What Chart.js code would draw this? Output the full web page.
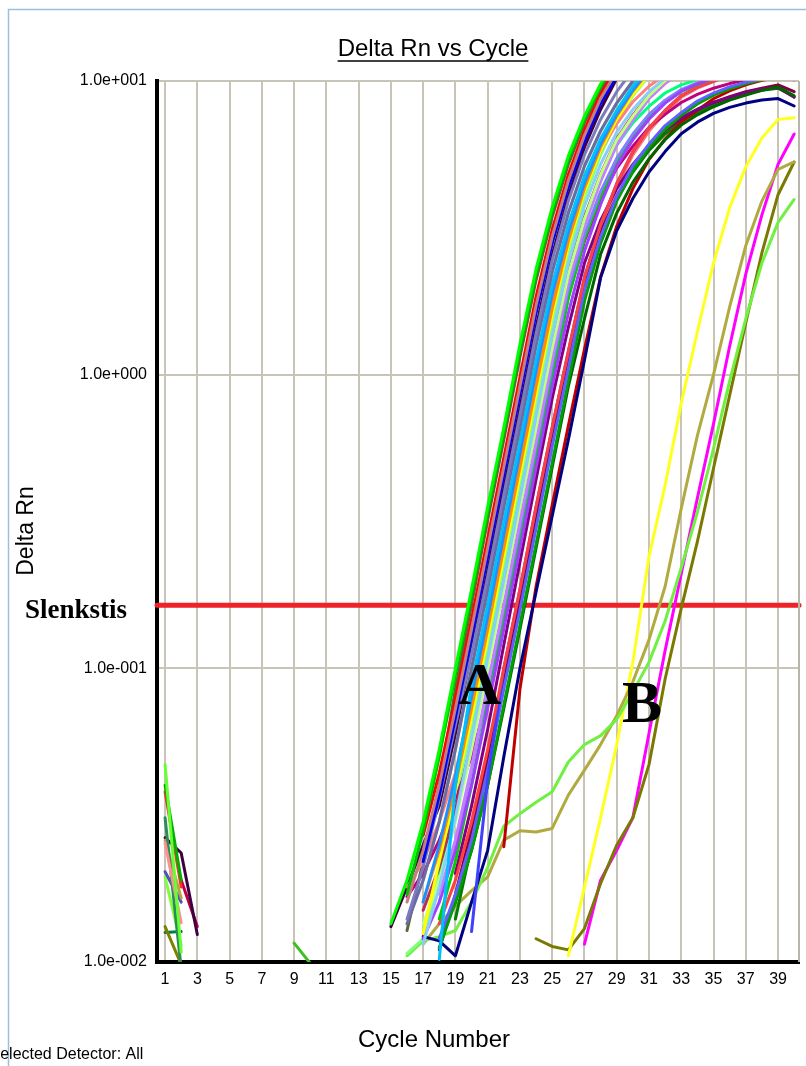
<!DOCTYPE html>
<html>
<head>
<meta charset="utf-8">
<script src="https://cdn.jsdelivr.net/npm/chart.js@4.4.1/dist/chart.umd.min.js"></script>
<style>
  html, body { margin: 0; padding: 0; background: #ffffff; }
  #wrap { position: relative; width: 806px; height: 1066px; }
  canvas { display: block; }
</style>
</head>
<body>
<div id="wrap"><canvas id="c" width="806" height="1066"></canvas></div>
<script>
// ---------- DATA ----------
const xTickCycles = [1,3,5,7,9,11,13,15,17,19,21,23,25,27,29,31,33,35,37,39];
const yTickValues = [0.01, 0.1, 1, 10];
const yTickLabels = ['1.0e-002', '1.0e-001', '1.0e+000', '1.0e+001'];
const thresholdValue = 0.164;
const thresholdLabel = 'Slenkstis';

// Group A curves: first cycle of each curve, then Delta Rn values per cycle
const groupAStart = [15,16,16,17,17,16,16,18,17,17,17,17,17,17,18,16,17,18,18,18,18,20,18,16,18,16,15,18,19,18,17,22,19,19,17,16];
const a01 = [0.0135,0.019,0.030,0.053,0.1,0.186,0.355,0.661,1.27,2.29,3.72,5.56,7.59,9.77,12.0];
const a02 = [0.017,0.028,0.05,0.095,0.178,0.34,0.64,1.22,2.2,3.6,5.4,7.4,9.6,11.8];
const a03 = [0.016,0.024,0.04,0.073,0.136,0.257,0.484,0.912,1.72,2.95,4.57,6.53,8.71,10.8];
const a04 = [0.027,0.044,0.079,0.147,0.277,0.52,0.98,1.84,3.12,4.8,6.8,9.0,11.1];
const a05 = [0.022,0.037,0.068,0.127,0.24,0.455,0.86,1.62,2.8,4.35,6.25,8.4,10.4];
const a06 = [0.014,0.021,0.036,0.064,0.112,0.205,0.39,0.73,1.38,2.45,3.9,5.6,7.4,9.2,10.9];
const a07 = [0.0135,0.019,0.030,0.053,0.1,0.186,0.355,0.661,1.26,2.24,3.55,5.13,6.76,8.41,10.0,11.5];
const a08 = [0.0102,0.04,0.088,0.165,0.315,0.59,1.12,2.02,3.25,4.75,6.35,7.95,9.6,11.2];
const a09 = [0.016,0.025,0.043,0.08,0.15,0.285,0.54,1.03,1.88,3.05,4.5,6.1,7.7,9.3,10.9];
const a10 = [0.016,0.024,0.04,0.073,0.136,0.257,0.484,0.912,1.68,2.85,4.32,5.96,7.59,9.23,10.8];
const a11 = [0.0125,0.022,0.038,0.068,0.127,0.24,0.455,0.86,1.6,2.75,4.2,5.8,7.4,9.0,10.5];
const a12 = [0.0115,0.018,0.031,0.058,0.108,0.2,0.38,0.72,1.36,2.4,3.75,5.2,6.7,8.0,9.2,10.2,11.0];
const a13 = [0.0135,0.019,0.030,0.053,0.1,0.186,0.355,0.661,1.23,2.19,3.39,4.79,6.31,7.59,8.91,10.0,11.0];
const a14 = [0.015,0.021,0.033,0.056,0.104,0.19,0.36,0.67,1.25,2.22,3.42,4.82,6.35,7.65,8.95,10.0,11.0];
const a15 = [0.017,0.026,0.046,0.088,0.165,0.315,0.59,1.12,2.05,3.2,4.55,6.05,7.35,8.7,9.8,10.7];
const a16 = [0.018,0.022,0.03,0.044,0.078,0.146,0.275,0.52,0.98,1.8,3.0,4.35,5.8,7.15,8.5,9.6,10.5];
const a17 = [0.012,0.016,0.024,0.04,0.073,0.136,0.257,0.484,0.912,1.62,2.63,3.8,5.13,6.31,7.41,8.41,9.23,9.77,10.2];
const a18 = [0.02,0.032,0.057,0.107,0.2,0.38,0.71,1.3,2.3,3.45,4.75,6.05,7.2,8.2,9.1,9.7,10.1];
const a19 = [0.016,0.025,0.045,0.085,0.16,0.3,0.57,1.07,1.95,3.0,4.2,5.45,6.6,7.7,8.6,9.35,9.85,10.3];
const a20 = [0.014,0.022,0.04,0.076,0.145,0.275,0.52,0.98,1.82,2.9,4.05,5.3,6.45,7.55,8.45,9.2,9.75,10.2];
const a21 = [0.0135,0.019,0.030,0.053,0.1,0.186,0.355,0.661,1.2,2.14,3.24,4.47,5.75,6.92,7.94,8.91,9.55,10.0,10.5];
const a22 = [0.0127,0.042,0.1,0.186,0.355,0.661,1.2,2.14,3.24,4.47,5.75,6.92,7.94,8.91,9.55,10.0,10.5];
const a23 = [0.012,0.017,0.026,0.045,0.085,0.158,0.3,0.57,1.05,1.95,2.95,4.05,5.15,6.1,7.05,7.8,8.55,9.1,9.55,9.9,10.15];
const a24 = [0.0167,0.02,0.026,0.036,0.05,0.08,0.15,0.28,0.53,0.98,1.85,2.85,3.95,5.05,6.0,6.95,7.7,8.45,9.0,9.45,9.8,10.1];
const a25 = [0.0112,0.016,0.024,0.04,0.075,0.14,0.265,0.5,0.95,1.78,2.8,3.9,4.95,5.95,6.85,7.65,8.35,8.95,9.4,9.8,10.1];
const a26 = [0.0128,0.022,0.04,0.085,0.165,0.32,0.6,1.15,2.1,3.45,5.2,7.2,9.3,11.5];
const a27 = [0.0132,0.018,0.025,0.034,0.06,0.115,0.215,0.41,0.77,1.45,2.55,4.05,5.95,8.0,10.2];
const a28 = [0.012,0.016,0.024,0.04,0.073,0.136,0.257,0.484,0.912,1.55,2.57,3.55,4.52,5.43,6.31,7.08,7.67,8.17,8.61,8.95,9.29,9.55,8.9];
const a29 = [0.02,0.034,0.062,0.12,0.23,0.44,0.83,1.45,2.4,3.35,4.3,5.2,6.05,6.85,7.5,8.0,8.45,8.8,9.15,9.4,9.5,8.8];
const a30 = [0.011,0.017,0.028,0.05,0.092,0.17,0.33,0.62,1.15,2.05,3.05,4.05,5.0,5.95,6.8,7.45,8.0,8.45,8.85,9.2,9.45,9.7,9.2];
const a31 = [0.0122,0.0118,0.0105,0.016,0.024,0.05,0.1,0.182,0.33,0.6,1.12,2.14,3.09,3.98,4.9,5.75,6.61,7.24,7.76,8.13,8.41,8.61,8.71,8.22];
const a32 = [0.0247,0.085,0.19,0.36,0.67,1.22,2.15,3.2,4.3,5.4,6.35,7.25,7.95,8.7,9.25,9.7,10.05,10.3,10.1];
const a33 = [0.014,0.025,0.046,0.088,0.165,0.31,0.6,1.1,1.95,2.95,3.95,4.9,5.8,6.6,7.3,7.85,8.3,8.7,9.05,9.3,9.45,8.85];
const a34 = [0.016,0.03,0.052,0.094,0.175,0.335,0.63,1.16,2.08,3.15,4.35,5.6,6.75,7.8,8.8,9.45,9.95,10.4];
const a35 = [0.019,0.030,0.053,0.1,0.186,0.355,0.661,1.26,2.24,3.55,5.13,6.76,8.41,10.0,11.5];
const a36 = [0.0107,0.012,0.02,0.036,0.064,0.117,0.22,0.42,0.8,1.5,2.6,4.0,5.6,7.3,8.9,10.4];

// Group B curves (late amplification)
const groupBStart = [16, 17, 26, 24, 27];
const b1 = [0.0105,0.0118,0.0122,0.0128,0.016,0.021,0.029,0.032,0.035,0.038,0.048,0.055,0.059,0.067,0.083,0.105,0.145,0.22,0.34,0.56,0.95,1.55,2.4,3.3,3.95];
const b2 = [0.0115,0.0135,0.0155,0.0175,0.0195,0.026,0.028,0.0277,0.0285,0.037,0.045,0.055,0.069,0.09,0.125,0.19,0.35,0.62,1.0,1.7,2.75,3.9,5.0,5.3];
const b3 = [0.0105,0.018,0.031,0.055,0.105,0.24,0.42,0.8,1.4,2.4,3.7,5.1,6.4,7.4,7.5];
const b4 = [0.012,0.0113,0.011,0.013,0.0185,0.025,0.031,0.047,0.092,0.16,0.27,0.48,0.85,1.5,2.6,4.1,5.3];
const b5 = [0.0115,0.019,0.024,0.031,0.06,0.115,0.21,0.38,0.68,1.25,2.2,3.5,5.2,6.6];

// Early-cycle noise fragments
const noiseStart = [1,1,1,1,1,1,1,2,1,1,1,1,9];
const n01 = [0.047,0.0108];
const n02 = [0.040,0.019];
const n03 = [0.038,0.018];
const n04 = [0.0254,0.0136];
const n05 = [0.031,0.0095];
const n06 = [0.026,0.0165];
const n07 = [0.0265,0.0235,0.0124];
const n08 = [0.019,0.0132];
const n09 = [0.0203,0.016];
const n10 = [0.0195,0.0114];
const n11 = [0.0132,0.0098];
const n12 = [0.0126,0.0127];
const n13 = [0.0116,0.0099];

// ---------- STYLE ----------
const groupAColors = ['#00ff00','#00c000','#c08080','#ff0000','#0000ff','#7b7bbd','#6a6aa8','#00bfff','#1e90ff','#ff8c00','#ffff00','#87cefa','#c0ff80','#b03060','#c080ff','#ff7f7f','#a040ff','#00ff80','#8080ff','#00d000','#ff4040','#4040ff','#6060ff','#c0007f','#00a000','#556b2f','#400040','#006400','#800080','#800040','#000080','#c00000','#008000','#ff6f6f','#9acd32','#80ff80'];
const groupBColors = ['#70f040','#b0aa40','#ffff20','#7a7a00','#ff00ff'];
const noiseColors = ['#66ff33','#00b000','#ff3030','#ff9090','#2e8b57','#b5a642','#400040','#c00040','#5050c0','#80ff40','#808000','#008040','#40c020'];

const SANS = "'Liberation Sans', Arial, Helvetica, sans-serif";
const SERIF = "'Liberation Serif', 'Times New Roman', serif";

const groupA = [a01,a02,a03,a04,a05,a06,a07,a08,a09,a10,a11,a12,a13,a14,a15,a16,a17,a18,a19,a20,a21,a22,a23,a24,a25,a26,a27,a28,a29,a30,a31,a32,a33,a34,a35,a36];
const groupB = [b1,b2,b3,b4,b5];
const noise = [n01,n02,n03,n04,n05,n06,n07,n08,n09,n10,n11,n12,n13];

function toPoints(start, vals) { return vals.map((v, i) => ({ x: start + i, y: v })); }
function lineDs(points, color, width) {
  return { data: points, borderColor: color, backgroundColor: color, borderWidth: width,
           pointRadius: 0, tension: 0, fill: false, clip: 0, borderJoinStyle: 'round', borderCapStyle: 'round' };
}

const datasets = [];
groupA.forEach((v, i) => datasets.push(lineDs(toPoints(groupAStart[i], v), groupAColors[i], 3)));
groupB.forEach((v, i) => datasets.push(lineDs(toPoints(groupBStart[i], v), groupBColors[i], 3)));
noise.forEach((v, i) => datasets.push(lineDs(toPoints(noiseStart[i], v), noiseColors[i], 3)));
const thr = lineDs([{ x: 0.5, y: thresholdValue }, { x: 40.3, y: thresholdValue }], '#ee2229', 5);
thr.clip = false;
datasets.push(thr);

const decor = {
  id: 'decor',
  beforeDraw(chart) {
    const c = chart.ctx;
    c.save();
    c.fillStyle = '#ffffff';
    c.fillRect(0, 0, chart.width, chart.height);
    c.strokeStyle = '#9dbde3';
    c.lineWidth = 1.5;
    c.beginPath();
    c.moveTo(8.5, 1066); c.lineTo(8.5, 9.5); c.lineTo(806, 9.5);
    c.stroke();
    c.restore();
  },
  afterDatasetsDraw(chart) {
    const c = chart.ctx, a = chart.chartArea;
    c.save();
    // right border of plot
    c.strokeStyle = '#b8b4a8';
    c.lineWidth = 2;
    c.beginPath(); c.moveTo(a.right, a.top); c.lineTo(a.right, a.bottom); c.stroke();
    // title
    c.fillStyle = '#000';
    c.font = '24px ' + SANS;
    c.textAlign = 'center';
    c.textBaseline = 'alphabetic';
    const title = 'Delta Rn vs Cycle';
    c.fillText(title, 433, 56);
    const tw = c.measureText(title).width;
    c.strokeStyle = '#000'; c.lineWidth = 1.5;
    c.beginPath(); c.moveTo(433 - tw / 2, 61); c.lineTo(433 + tw / 2, 61); c.stroke();
    // axis titles
    c.font = '24px ' + SANS;
    c.fillText('Cycle Number', 434, 1047);
    c.save();
    c.translate(33, 531);
    c.rotate(-Math.PI / 2);
    c.font = '23px ' + SANS;
    c.fillText('Delta Rn', 0, 0);
    c.restore();
    // footer
    c.textAlign = 'left';
    c.font = '16px ' + SANS;
    c.fillText('Selected Detector: All', -10.5, 1059);
    // annotations
    c.font = 'bold 27px ' + SERIF;
    c.fillText(thresholdLabel, 25, 618);
    c.font = 'bold 60px ' + SERIF;
    c.fillText('A', 458, 704);
    c.fillText('B', 622, 722);
    c.restore();
  }
};

new Chart(document.getElementById('c'), {
  type: 'line',
  data: { datasets },
  plugins: [decor],
  options: {
    responsive: false,
    animation: false,
    devicePixelRatio: 1,
    layout: { padding: { top: 81, right: 7, left: 0, bottom: 0 } },
    plugins: { legend: { display: false }, tooltip: { enabled: false }, title: { display: false } },
    scales: {
      x: {
        type: 'linear', min: 0.5, max: 40.3,
        afterBuildTicks: s => { s.ticks = xTickCycles.map(v => ({ value: v })); },
        afterFit: s => { s.height = 104; },
        ticks: { font: { family: SANS, size: 16 }, color: '#000', padding: 8, autoSkip: false, maxRotation: 0,
                 callback: v => String(v) },
        grid: { color: '#c8c4b8', lineWidth: 2, drawTicks: false },
        border: { color: '#000', width: 4 }
      },
      y: {
        type: 'logarithmic', min: 0.01, max: 10,
        afterBuildTicks: s => { s.ticks = yTickValues.map(v => ({ value: v })); },
        afterFit: s => { s.width = 157; },
        ticks: { font: { family: SANS, size: 16 }, color: '#000', padding: 10, autoSkip: false,
                 callback: (v, i) => yTickLabels[i] },
        grid: { color: '#c8c4b8', lineWidth: 2, drawTicks: false },
        border: { color: '#000', width: 4 }
      }
    }
  }
});
</script>
</body>
</html>
